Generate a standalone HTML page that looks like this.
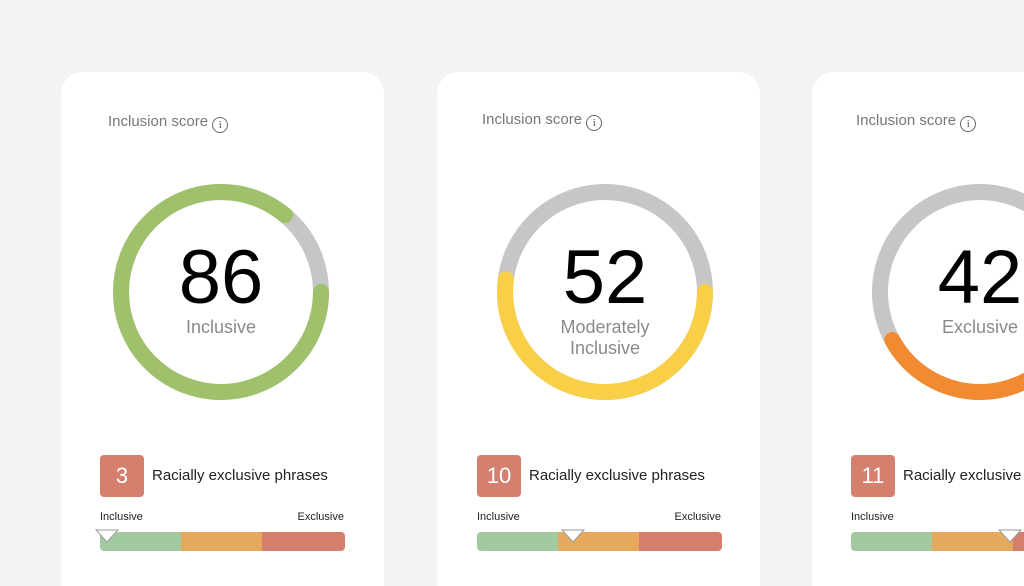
<!DOCTYPE html>
<html><head><meta charset="utf-8">
<style>
body{margin:0;width:1024px;height:586px;overflow:hidden;background:#f3f3f3;font-family:"Liberation Sans",sans-serif;position:relative}
#root{position:absolute;left:0;top:0;width:1024px;height:586px;overflow:hidden}
.card{position:absolute;top:72px;width:323px;height:540px;background:#fff;border-radius:22px}
.t{position:absolute;white-space:nowrap}
</style></head><body>
<div id="root"></div>
<script>
const titles=["Inclusion score","Inclusion score","Inclusion score"];
const scores=[86,52,42];
const labels=[["Inclusive"],["Moderately","Inclusive"],["Exclusive"]];
const arcColors=["#9fc16b","#f9cf47","#f18a31"];
const phraseCounts=[3,10,11];
const markerPct=[3,39,65];
const cardX=[61,437,812];
const gaugeCX=[160,168,168];
const titleX=[47,45,44];
const contentX=[39,40,39];
const titleY=[113,111,112];
const segPct=[33,33,34];
const segColors=["#a3c9a0","#e4a95c","#d47f6e"];
const root=document.getElementById('root');
const NS="http://www.w3.org/2000/svg";
scores.forEach((s,i)=>{
  const c=document.createElement('div');c.className='card';c.style.left=cardX[i]+'px';
  
  
  const cx=gaugeCX[i], bx=contentX[i];
  const t=document.createElement('div');t.className='t';
  t.style.cssText='left:'+titleX[i]+'px;top:'+(titleY[i]-72)+'px;font-size:15px;color:#777';
  t.innerHTML=titles[i]+' <span style="display:inline-block;width:14px;height:14px;border:1.5px solid #666;border-radius:50%;font-size:11px;line-height:14px;text-align:center;color:#555;vertical-align:-2px;font-family:Liberation Serif,serif">i</span>';
  
  
  c.appendChild(t);
  const svg=document.createElementNS(NS,'svg');
  svg.setAttribute('width','240');svg.setAttribute('height','240');
  svg.style.cssText='position:absolute;left:'+(cx-120)+'px;top:100px';
  
  
  const r=100,C=2*Math.PI*r;
  const bg=document.createElementNS(NS,'circle');
  bg.setAttribute('cx',120);bg.setAttribute('cy',120);bg.setAttribute('r',r);
  bg.setAttribute('fill','none');bg.setAttribute('stroke','#c6c6c6');bg.setAttribute('stroke-width',16);
  
  
  svg.appendChild(bg);
  const a=document.createElementNS(NS,'circle');
  a.setAttribute('cx',120);a.setAttribute('cy',120);a.setAttribute('r',r);
  a.setAttribute('fill','none');a.setAttribute('stroke',arcColors[i]);a.setAttribute('stroke-width',16);
  a.setAttribute('stroke-linecap','round');
  a.setAttribute('stroke-dasharray',(C*s/100)+' '+C);
  
  
  svg.appendChild(a);
  c.appendChild(svg);
  const n=document.createElement('div');n.className='t';
  n.style.cssText='left:'+(cx-100)+'px;width:200px;text-align:center;top:166px;font-size:76px;line-height:80px;color:#000';
  n.textContent=s;
  
  
  c.appendChild(n);
  const l=document.createElement('div');l.className='t';
  l.style.cssText='left:'+(cx-100)+'px;width:200px;text-align:center;top:245px;font-size:18px;line-height:21px;color:#8a8a8a';
  l.innerHTML=labels[i].join('<br>');
  
  
  c.appendChild(l);
  const b=document.createElement('div');b.className='t';
  b.style.cssText='left:'+bx+'px;top:383px;width:44px;height:42px;border-radius:4px;background:#d57f6e;color:#fff;font-size:22px;line-height:42px;text-align:center';
  b.textContent=phraseCounts[i];
  
  
  c.appendChild(b);
  const p=document.createElement('div');p.className='t';
  p.style.cssText='left:'+(bx+52)+'px;top:395px;font-size:15px;color:#222';
  p.textContent='Racially exclusive phrases';
  
  
  c.appendChild(p);
  const li=document.createElement('div');li.className='t';
  li.style.cssText='left:'+bx+'px;top:439px;font-size:11px;color:#222';li.textContent='Inclusive';
  
  
  c.appendChild(li);
  const le=document.createElement('div');le.className='t';
  le.style.cssText='left:'+(bx+244)+'px;transform:translateX(-100%);top:439px;font-size:11px;color:#222';le.textContent='Exclusive';
  
  
  c.appendChild(le);
  const bar=document.createElement('div');bar.className='t';
  bar.style.cssText='left:'+bx+'px;top:460px;width:245px;height:19px;border-radius:4px;overflow:hidden;display:flex';
  
  
  segPct.forEach((w,j)=>{const sg=document.createElement('div');sg.style.cssText='width:'+w+'%;background:'+segColors[j];
    
    
    bar.appendChild(sg);});
  c.appendChild(bar);
  const m=document.createElementNS(NS,'svg');
  m.setAttribute('width','24');m.setAttribute('height','14');
  m.style.cssText='position:absolute;top:457px;left:'+(bx+245*markerPct[i]/100-12)+'px';
  m.innerHTML='<polygon points="1,1 23,1 12,13" fill="#fff" stroke="#999" stroke-width="1"/>';
  
  
  c.appendChild(m);
  root.appendChild(c);
});
</script>
</body></html>
